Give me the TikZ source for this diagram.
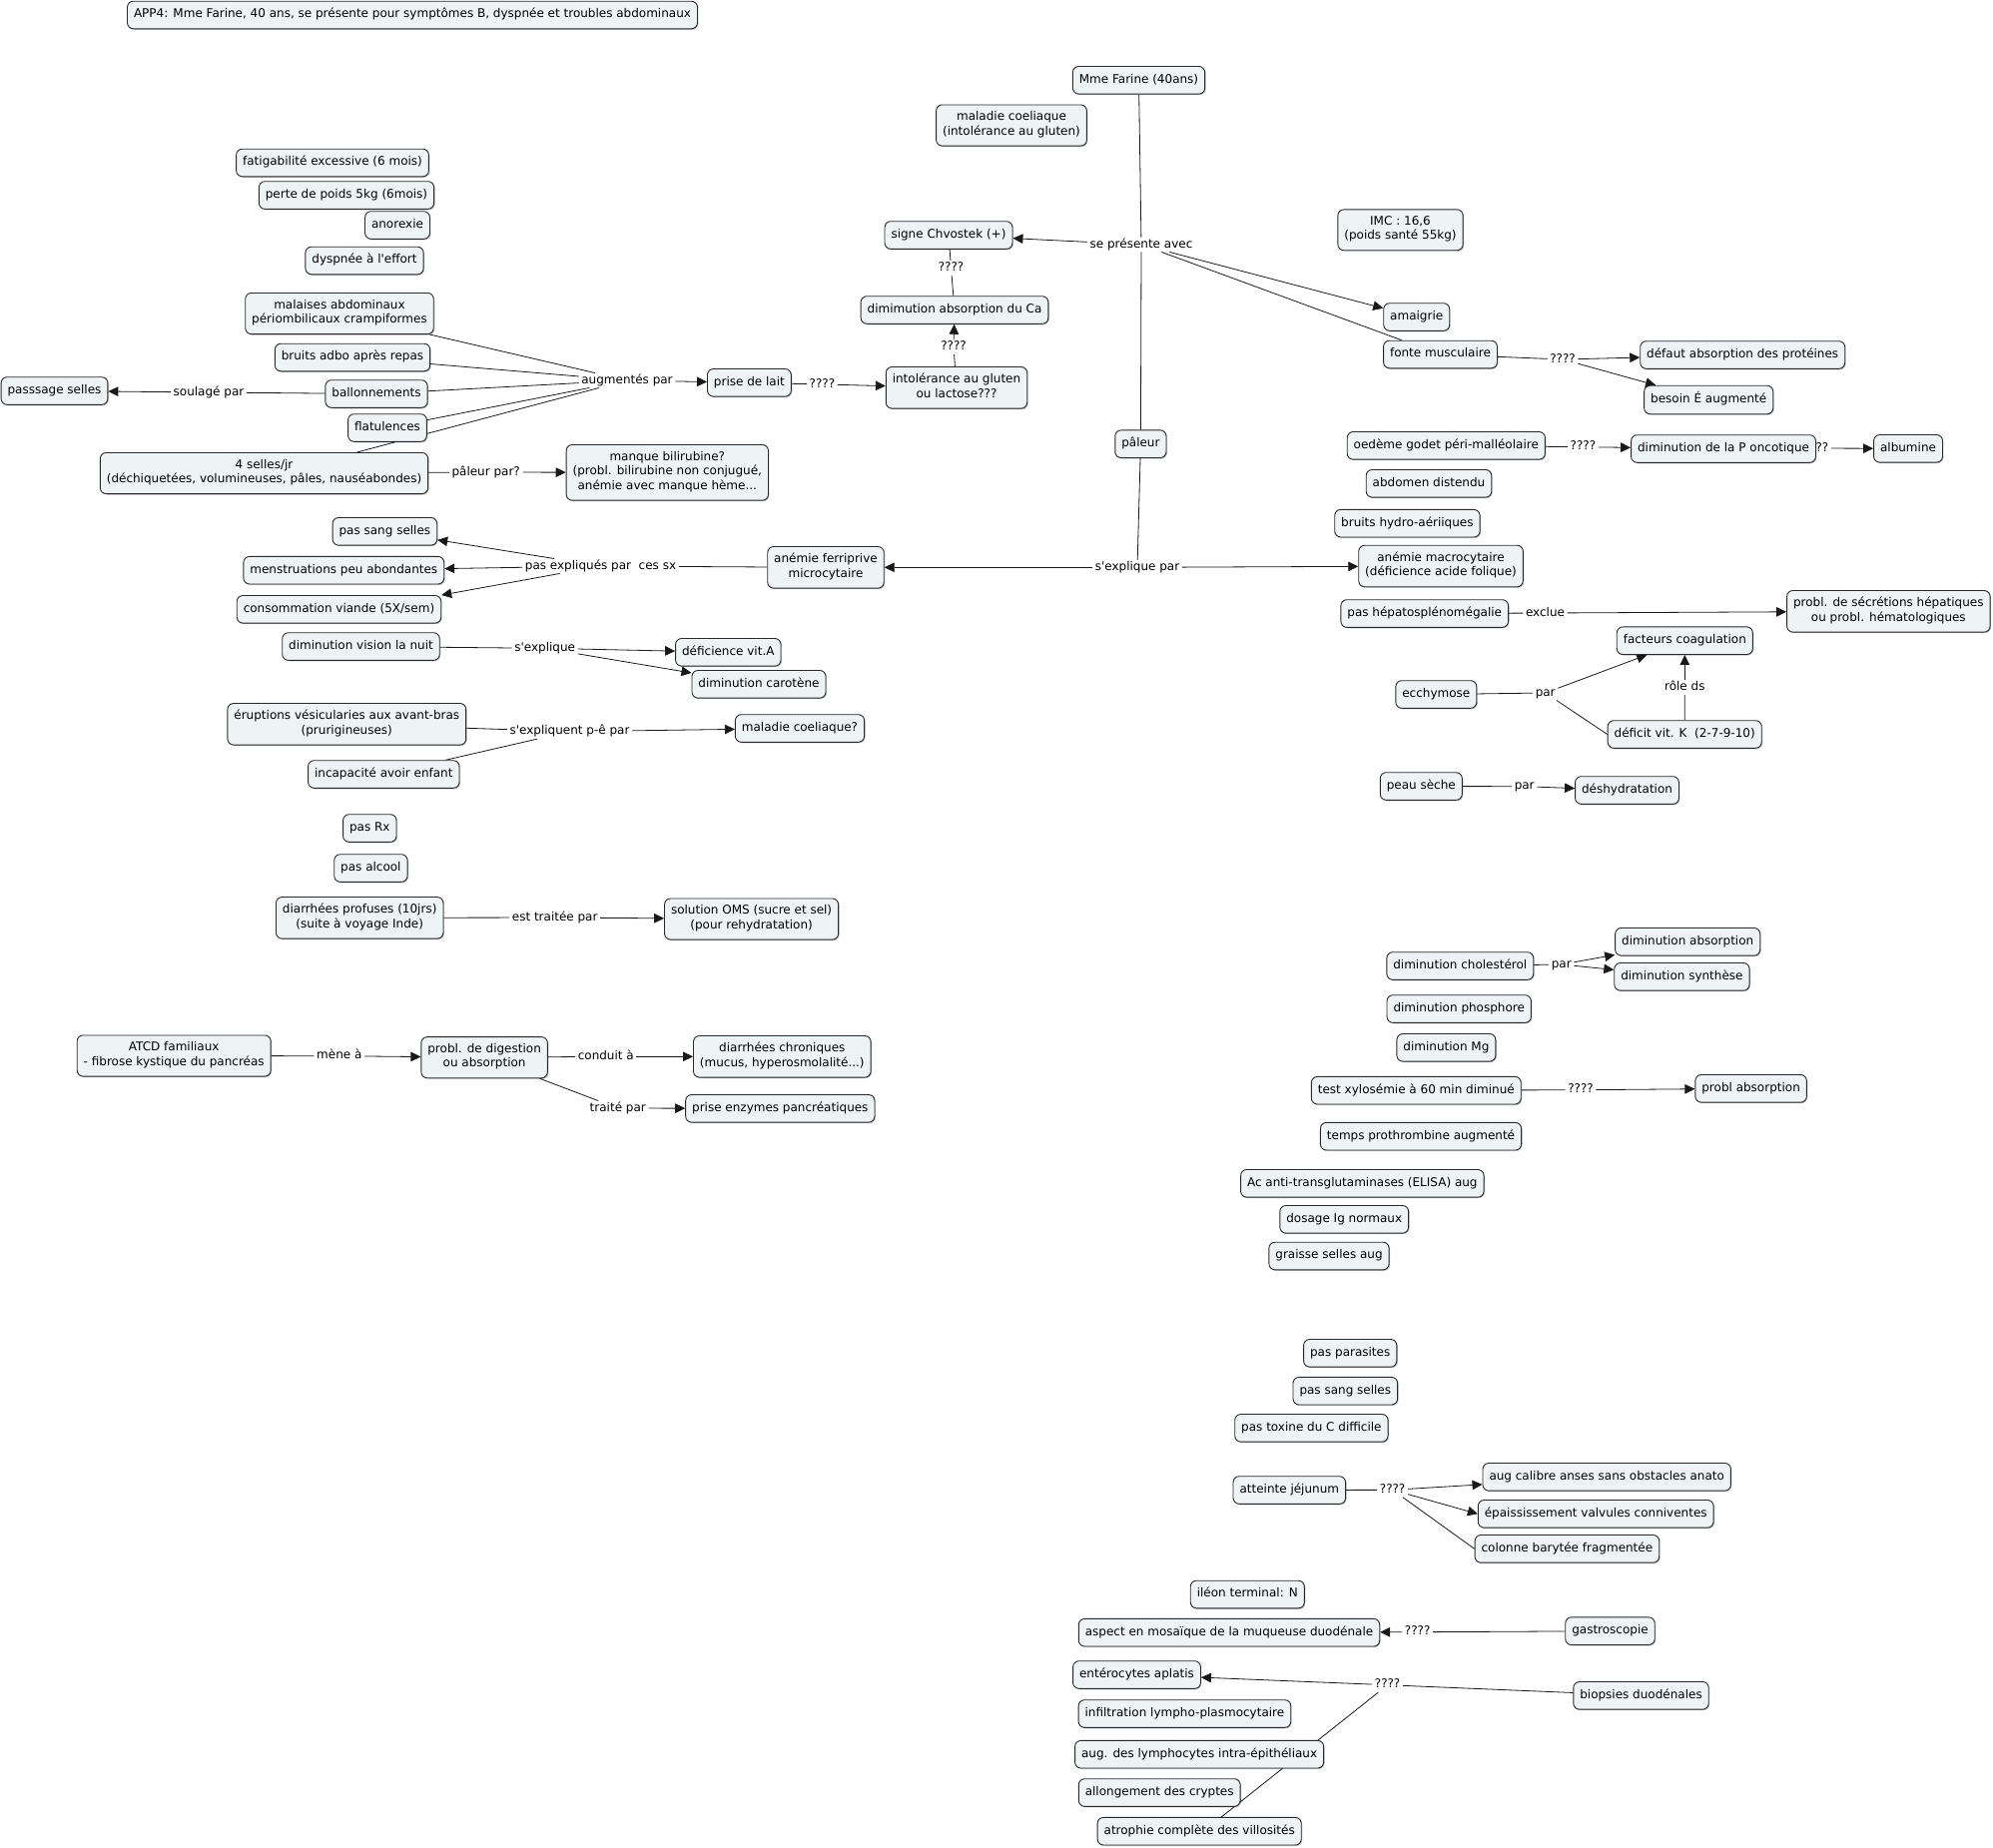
\documentclass[tikz,border=0pt]{standalone}
\usepackage{fontspec}
\setmainfont{DejaVu Sans}
\usetikzlibrary{arrows.meta,shadows}
\pgfdeclarelayer{bg}
\pgfdeclarelayer{paper}
\pgfsetlayers{paper,bg,main}
\definecolor{boxfill}{HTML}{EEF3F5}
\definecolor{boxline}{HTML}{2A2A2A}
\newcommand{\apos}{\textquotesingle}
\tikzset{
 cbox/.style={draw=boxline, fill=boxfill, rounded corners=6pt, line width=0.9pt, align=center,
   inner xsep=6.5pt, inner ysep=6.5pt, execute at begin node=\strut, execute at end node=\strut,
   drop shadow={shadow xshift=1pt, shadow yshift=-1pt, fill=black, opacity=0.25}},
 lbl/.style={inner xsep=2.5pt, inner ysep=1.5pt, text height=8.8pt, text depth=2.7pt},
 link/.style={line width=0.8pt, draw=black!90},
 arr/.style={link, -{Triangle[length=10pt,width=9.5pt]}},
}
\begin{document}
\begin{tikzpicture}[x=1pt, y=-1pt, font=\fontsize{12}{14.6}\selectfont]
\begin{pgfonlayer}{paper}
\fill[white] (0,0) rectangle (1996,1850);
\end{pgfonlayer}
\useasboundingbox (0,0) rectangle (1996,1850);

% ---------- concepts ----------
\node[cbox] (title) at (413,15) {APP4: Mme Farine, 40 ans, se présente pour symptômes B, dyspnée et troubles abdominaux};
\node[cbox] (mme) at (1140.5,80.3) {Mme Farine (40ans)};
\node[cbox] (mcoel) at (1013,125.5) {maladie coeliaque\\(intolérance au gluten)};
\node[cbox] (imc) at (1402.5,230.3) {IMC : 16,6\\(poids santé 55kg)};
\node[cbox] (fatig) at (333,163) {fatigabilité excessive (6 mois)};
\node[cbox] (perte) at (347,195.5) {perte de poids 5kg (6mois)};
\node[cbox] (anor) at (398,225.5) {anorexie};
\node[cbox] (dysp) at (365,261) {dyspnée à l\apos effort};
\node[cbox] (malaises) at (340,314) {malaises abdominaux\\périombilicaux crampiformes};
\node[cbox] (bruits) at (353,358) {bruits adbo après repas};
\node[cbox] (ballon) at (377,394.5) {ballonnements};
\node[cbox] (flat) at (388,428.5) {flatulences};
\node[cbox] (passage) at (54.5,391.5) {passsage selles};
\node[cbox] (selles) at (264.5,474) {4 selles/jr\\(déchiquetées, volumineuses, pâles, nauséabondes)};
\node[cbox] (manque) at (668.3,473.3) {manque bilirubine?\\(probl. bilirubine non conjugué,\\anémie avec manque hème...};
\node[cbox] (chvo) at (950,235.5) {signe Chvostek (+)};
\node[cbox] (dimca) at (956,310.5) {dimimution absorption du Ca};
\node[cbox] (intol) at (958,388.3) {intolérance au gluten\\ou lactose???};
\node[cbox] (lait) at (750.4,383.3) {prise de lait};
\node[cbox] (paleur) at (1142.4,444.7) {pâleur};
\node[cbox] (amaig) at (1418.7,317.5) {amaigrie};
\node[cbox] (fonte) at (1442.5,355) {fonte musculaire};
\node[cbox] (defaut) at (1745.2,355.5) {défaut absorption des protéines};
\node[cbox] (besoin) at (1711.2,400.5) {besoin É augmenté};
\node[cbox] (oedeme) at (1448.3,446.3) {oedème godet péri-malléolaire};
\node[lbl] (lalb) at (1818.5,449) {????};
\node[cbox] (poncot) at (1726,449.5) {diminution de la P oncotique};
\node[cbox] (albu) at (1911,449.3) {albumine};
\node[cbox] (abdo) at (1431,484.3) {abdomen distendu};
\node[cbox] (bhydro) at (1409.4,524.2) {bruits hydro-aériiques};
\node[cbox] (anmacro) at (1443,567) {anémie macrocytaire\\(déficience acide folique)};
\node[cbox] (anferri) at (827,568.3) {anémie ferriprive\\microcytaire};
\node[cbox] (passang) at (385.4,532.3) {pas sang selles};
\node[cbox] (menstr) at (344.3,571.2) {menstruations peu abondantes};
\node[cbox] (viande) at (339.5,610.3) {consommation viande (5X/sem)};
\node[cbox] (vision) at (361.5,647.5) {diminution vision la nuit};
\node[cbox] (vita) at (729.3,653.3) {déficience vit.A};
\node[cbox] (carot) at (760,685.3) {diminution carotène};
\node[cbox] (erupt) at (347.3,725.3) {éruptions vésicularies aux avant-bras\\(prurigineuses)};
\node[cbox] (incap) at (384.3,775.5) {incapacité avoir enfant};
\node[cbox] (mcoelq) at (801,729.5) {maladie coeliaque?};
\node[cbox] (pasrx) at (370.3,829.5) {pas Rx};
\node[cbox] (pasalc) at (371.4,869.5) {pas alcool};
\node[cbox] (diarp) at (360.2,919.3) {diarrhées profuses (10jrs)\\(suite à voyage Inde)};
\node[cbox] (oms) at (752.6,920.5) {solution OMS (sucre et sel)\\(pour rehydratation)};
\node[cbox] (atcd) at (174.2,1057.5) {ATCD familiaux\\- fibrose kystique du pancréas};
\node[cbox] (probl) at (485.1,1059.2) {probl. de digestion\\ou absorption};
\node[cbox] (diarc) at (783.3,1058.3) {diarrhées chroniques\\(mucus, hyperosmolalité...)};
\node[cbox] (enzym) at (781.3,1110.3) {prise enzymes pancréatiques};
\node[cbox] (hepato) at (1426.7,614.5) {pas hépatosplénomégalie};
\node[cbox] (secr) at (1891.3,612.3) {probl. de sécrétions hépatiques\\ou probl. hématologiques};
\node[cbox] (coag) at (1687.3,641.7) {facteurs coagulation};
\node[cbox] (ecchy) at (1438.3,695.5) {ecchymose};
\node[cbox] (vitk) at (1687.2,735.5) {déficit vit. K~~(2-7-9-10)};
\node[cbox] (peau) at (1423.3,787.5) {peau sèche};
\node[cbox] (deshy) at (1629.5,791.5) {déshydratation};
\node[cbox] (dabs) at (1690.2,943.3) {diminution absorption};
\node[cbox] (chol) at (1462.3,967.5) {diminution cholestérol};
\node[cbox] (dsyn) at (1684.4,978.3) {diminution synthèse};
\node[cbox] (phos) at (1461.2,1010.5) {diminution phosphore};
\node[cbox] (mg) at (1448.4,1049.3) {diminution Mg};
\node[cbox] (xylo) at (1418.3,1092.2) {test xylosémie à 60 min diminué};
\node[cbox] (pabs) at (1753.6,1090.3) {probl absorption};
\node[cbox] (proth) at (1423,1138.2) {temps prothrombine augmenté};
\node[cbox] (elisa) at (1364.3,1185.3) {Ac anti-transglutaminases (ELISA) aug};
\node[cbox] (ig) at (1346.2,1221.3) {dosage Ig normaux};
\node[cbox] (graisse) at (1331,1258) {graisse selles aug};
\node[cbox] (paras) at (1352.2,1355.3) {pas parasites};
\node[cbox] (passang2) at (1347.3,1393.2) {pas sang selles};
\node[cbox] (toxine) at (1313.4,1430.3) {pas toxine du C difficile};
\node[cbox] (jejun) at (1291.3,1492.5) {atteinte jéjunum};
\node[cbox] (calibre) at (1609.2,1479.3) {aug calibre anses sans obstacles anato};
\node[cbox] (epaiss) at (1598.2,1516.3) {épaississement valvules conniventes};
\node[cbox] (colonne) at (1569.4,1551.3) {colonne barytée fragmentée};
\node[cbox] (ileon) at (1249.3,1597) {iléon terminal: N};
\node[cbox] (mosa) at (1231,1635.2) {aspect en mosaïque de la muqueuse duodénale};
\node[cbox] (gastro) at (1612.5,1633.7) {gastroscopie};
\node[cbox] (entero) at (1138.5,1677.5) {entérocytes aplatis};
\node[cbox] (biops) at (1643.5,1698.3) {biopsies duodénales};
\node[cbox] (infil) at (1186.4,1716.5) {infiltration lympho-plasmocytaire};
\node[cbox] (lymph) at (1201.1,1757.2) {aug. des lymphocytes intra-épithéliaux};
\node[cbox] (crypt) at (1161.2,1795.5) {allongement des cryptes};
\node[cbox] (atroph) at (1201.2,1834.2) {atrophie complète des villosités};

% ---------- link labels ----------
\node[lbl] (lsepres) at (1143,245) {se présente avec};
\node[lbl] (lch) at (952.5,268.5) {????};
\node[lbl] (lca) at (955,347.7) {????};
\node[lbl] (llait) at (823.4,385) {????};
\node[lbl] (laug) at (628,381) {augmentés par};
\node[lbl] (lsoul) at (209,393) {soulagé par};
\node[lbl] (lpaleur) at (486.7,473) {pâleur par?};
\node[lbl] (lfonte) at (1565,360) {????};
\node[lbl] (loed) at (1585.4,447.7) {????};
\node[lbl] (lexpl) at (1139,568.3) {s\apos explique par};
\node[lbl] (lpasexp) at (601.5,567) {pas expliqués par~~ces sx};
\node[lbl] (lsexpl) at (545.7,649.3) {s\apos explique};
\node[lbl] (lpeut) at (570.5,732.7) {s\apos expliquent p-ê par};
\node[lbl] (ltrait) at (555.7,919) {est traitée par};
\node[lbl] (lmene) at (339.8,1057.7) {mène à};
\node[lbl] (lcond) at (606.8,1058.3) {conduit à};
\node[lbl] (ltraite) at (618.8,1110) {traité par};
\node[lbl] (lexcl) at (1547.5,614) {exclue};
\node[lbl] (lpar1) at (1547.7,694) {par};
\node[lbl] (lrole) at (1687.3,688.3) {rôle ds};
\node[lbl] (lpar2) at (1526.7,787.7) {par};
\node[lbl] (lpar3) at (1563.8,966) {par};
\node[lbl] (lxylo) at (1583,1091.7) {????};
\node[lbl] (ljej) at (1394.6,1492.3) {????};
\node[lbl] (lgastro) at (1419.7,1634.7) {????};
\node[lbl] (lbiops) at (1389.6,1687.7) {????};

% ---------- connectors ----------
\begin{pgfonlayer}{bg}
\draw[link] (mme) -- (lsepres);
\draw[arr] (lsepres) -- (chvo);
\draw[arr] (lsepres) -- (amaig);
\draw[link] (lsepres) -- (fonte);
\draw[link] (lsepres) -- (paleur);
\draw[link] (paleur) -- (lexpl);
\draw[arr] (lexpl) -- (anferri);
\draw[arr] (lexpl) -- (anmacro);
\draw[link] (chvo) -- (lch);
\draw[link] (lch) -- (dimca);
\draw[link] (intol) -- (lca);
\draw[arr] (lca) -- (dimca);
\draw[link] (lait) -- (llait);
\draw[arr] (llait) -- (intol);
\draw[link] (malaises) -- (laug);
\draw[link] (bruits) -- (laug);
\draw[link] (ballon) -- (laug);
\draw[link] (flat) -- (laug);
\draw[link] ([xshift=93pt]selles.north) -- (laug);
\draw[arr] (laug) -- (lait);
\draw[link] (ballon) -- (lsoul);
\draw[arr] (lsoul) -- (passage);
\draw[link] (selles) -- (lpaleur);
\draw[arr] (lpaleur) -- (manque);
\draw[link] (fonte) -- (lfonte);
\draw[arr] (lfonte) -- (defaut);
\draw[arr] (lfonte) -- (besoin);
\draw[link] (oedeme) -- (loed);
\draw[arr] (loed) -- (poncot);
\draw[link] (poncot) -- (lalb);
\draw[arr] (lalb) -- (albu);
\draw[link] (anferri) -- (lpasexp);
\draw[arr] (lpasexp) -- (passang);
\draw[arr] (lpasexp) -- (menstr);
\draw[arr] (lpasexp) -- (viande.north east);
\draw[link] (vision) -- (lsexpl);
\draw[arr] (lsexpl) -- (vita);
\draw[arr] (lsexpl) -- (carot);
\draw[link] (erupt) -- (lpeut);
\draw[link] (incap) -- (lpeut);
\draw[arr] (lpeut) -- (mcoelq);
\draw[link] (diarp) -- (ltrait);
\draw[arr] (ltrait) -- (oms);
\draw[link] (atcd) -- (lmene);
\draw[arr] (lmene) -- (probl);
\draw[link] (probl) -- (lcond);
\draw[arr] (lcond) -- (diarc);
\draw[link] (probl) -- (ltraite);
\draw[arr] (ltraite) -- (enzym);
\draw[link] (hepato) -- (lexcl);
\draw[arr] (lexcl) -- (secr);
\draw[link] (ecchy) -- (lpar1);
\draw[arr] (lpar1) -- (coag);
\draw[link] (lpar1) -- (vitk.west);
\draw[link] (vitk) -- (lrole);
\draw[arr] (lrole) -- (coag);
\draw[link] (peau) -- (lpar2);
\draw[arr] (lpar2) -- (deshy);
\draw[link] (chol) -- (lpar3);
\draw[arr] (lpar3) -- (dabs);
\draw[arr] (lpar3) -- (dsyn);
\draw[link] (xylo) -- (lxylo);
\draw[arr] (lxylo) -- (pabs);
\draw[link] (jejun) -- (ljej);
\draw[arr] (ljej) -- (calibre);
\draw[arr] (ljej) -- (epaiss.west);
\draw[link] (ljej) -- (colonne.west);
\draw[link] (gastro) -- (lgastro);
\draw[arr] (lgastro) -- (mosa);
\draw[link] (biops) -- (lbiops);
\draw[arr] (lbiops) -- (entero);
\draw[link] (lbiops) -- ([xshift=22pt]atroph.north);
\end{pgfonlayer}
\end{tikzpicture}
\end{document}
